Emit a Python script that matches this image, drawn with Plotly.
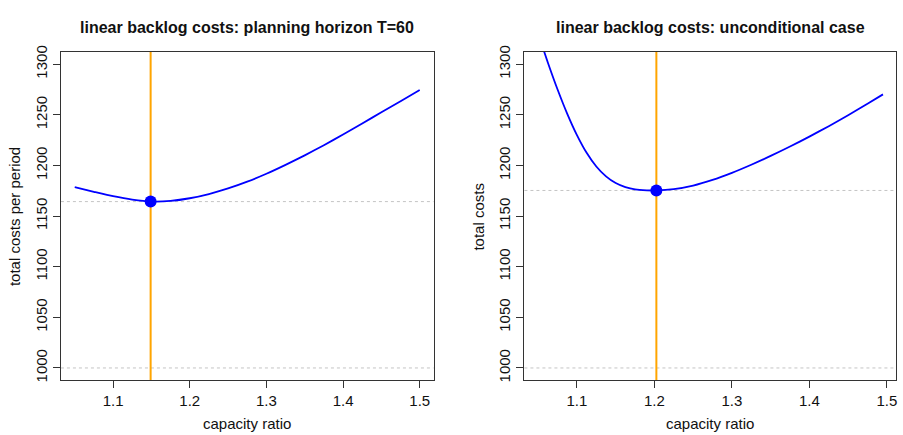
import plotly.graph_objects as go

# ---- data ----
x_left = [1.05, 1.075, 1.10, 1.125, 1.15, 1.175, 1.20, 1.225, 1.25, 1.275, 1.30,
          1.325, 1.35, 1.375, 1.40, 1.425, 1.45, 1.475, 1.50]
cost_left = [1178.5, 1174.0, 1169.7, 1166.3, 1164.4, 1165.0, 1167.6, 1171.8, 1177.3,
             1184.0, 1191.8, 1200.6, 1210.0, 1220.0, 1230.5, 1241.5, 1252.5, 1263.5, 1274.5]
opt_left_x = 1.149
opt_left_y = 1164.3

x_right = [1.05, 1.0625, 1.075, 1.0875, 1.10, 1.1125, 1.125, 1.1375, 1.15, 1.1625,
           1.175, 1.19, 1.2025, 1.225, 1.25, 1.275, 1.30, 1.325, 1.35, 1.375,
           1.40, 1.425, 1.45, 1.475, 1.495]
cost_right = [1330.0, 1301.5, 1275.0, 1251.0, 1230.0, 1212.5, 1199.0, 1189.2, 1182.6, 1178.6,
              1176.3, 1175.4, 1175.3, 1176.6, 1180.1, 1185.7, 1192.7, 1200.7, 1209.4, 1218.7,
              1228.5, 1238.8, 1249.6, 1260.9, 1270.2]
opt_right_x = 1.2025
opt_right_y = 1175.3

ref_level = 1000
x_ticks = [1.1, 1.2, 1.3, 1.4, 1.5]
y_ticks = [1000, 1050, 1100, 1150, 1200, 1250, 1300]

titles = ["linear backlog costs: planning horizon T=60",
          "linear backlog costs: unconditional case"]
x_title = "capacity ratio"
y_titles = ["total costs per period", "total costs"]

# ---- layout geometry ----
W, H = 903, 435
FONT = "Liberation Sans, Arial, sans-serif"
TXT = "#111111"
BLUE = "#0000FF"
ORANGE = "#FFA500"
GREY = "#C4C4C4"

dom_x = [[61 / W, 434 / W], [525 / W, 897 / W]]
dom_y = [1 - 381 / H, 1 - 46 / H]

fig = go.Figure()

panels = [
    (x_left, cost_left, opt_left_x, opt_left_y, "x", "y"),
    (x_right, cost_right, opt_right_x, opt_right_y, "x2", "y2"),
]

for xs, ys, ox, oy, xa, ya in panels:
    fig.add_trace(go.Scatter(x=xs, y=ys, mode="lines",
                             line=dict(color=BLUE, width=1.8, shape="spline", smoothing=0.6),
                             xaxis=xa, yaxis=ya, showlegend=False, hoverinfo="skip"))
    fig.add_trace(go.Scatter(x=[ox], y=[oy], mode="markers",
                             marker=dict(color=BLUE, size=12, line=dict(width=0)),
                             xaxis=xa, yaxis=ya, showlegend=False, hoverinfo="skip", cliponaxis=True))

shapes = []
for (xs, ys, ox, oy, xa, ya) in panels:
    for lvl in (ref_level, oy):
        shapes.append(dict(type="line", xref=f"{xa} domain", yref=ya, x0=0, x1=1, y0=lvl, y1=lvl,
                           line=dict(color=GREY, width=1, dash="3px,3px"), layer="below"))
    shapes.append(dict(type="line", xref=xa, yref=f"{ya} domain", x0=ox, x1=ox, y0=0, y1=1,
                       line=dict(color=ORANGE, width=2), layer="below"))

axis_common = dict(showline=True, mirror=True, linecolor="#333333", linewidth=1,
                   ticks="outside", ticklen=7, tickcolor="#333333", tickwidth=1,
                   showgrid=False, zeroline=False,
                   tickfont=dict(family=FONT, size=15, color=TXT))

fig.update_layout(
    width=W, height=H,
    margin=dict(l=0, r=0, t=0, b=0),
    paper_bgcolor="white", plot_bgcolor="white",
    shapes=shapes,
    xaxis=dict(domain=dom_x[0], range=[1.032, 1.518], tickvals=x_ticks, anchor="y", **axis_common),
    yaxis=dict(domain=dom_y, range=[988, 1312], tickvals=y_ticks, tickangle=-90, anchor="x", **axis_common),
    xaxis2=dict(domain=dom_x[1], range=[1.0322, 1.5118], tickvals=x_ticks, anchor="y2", **axis_common),
    yaxis2=dict(domain=dom_y, range=[988, 1312], tickvals=y_ticks, tickangle=-90, anchor="x2", **axis_common),
)

ann = []
centers = [(61 + 434) / 2, (525 + 897) / 2]
ytitle_x = [14, 479]
for i in range(2):
    ann.append(dict(text=f"<b>{titles[i]}</b>", x=centers[i] / W, y=1 - 21 / H, xref="paper", yref="paper",
                    showarrow=False, xanchor="center", yanchor="middle",
                    font=dict(family=FONT, size=16, color=TXT)))
    ann.append(dict(text=x_title, x=centers[i] / W, y=1 - 425 / H, xref="paper", yref="paper",
                    showarrow=False, xanchor="center", yanchor="middle",
                    font=dict(family=FONT, size=15, color=TXT)))
    ann.append(dict(text=y_titles[i], x=ytitle_x[i] / W, y=1 - 213.5 / H, xref="paper", yref="paper",
                    showarrow=False, xanchor="center", yanchor="middle", textangle=-90,
                    font=dict(family=FONT, size=15, color=TXT)))
fig.update_layout(annotations=ann)

fig.write_html("out.html", config={"displayModeBar": False},
               post_script="document.body.style.margin='0px';document.body.style.padding='0px';"
                           "document.documentElement.style.overflow='hidden';")
